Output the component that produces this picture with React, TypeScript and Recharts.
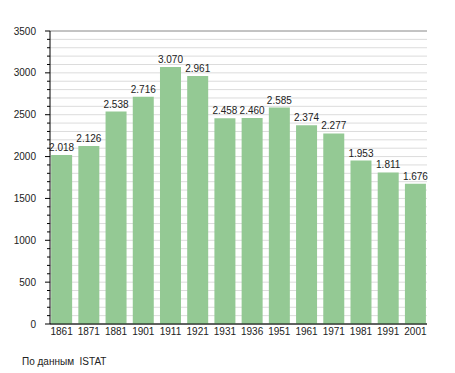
import React from "react";
import { BarChart, Bar, XAxis, YAxis, CartesianGrid, LabelList } from "recharts";

const years = ["1861", "1871", "1881", "1901", "1911", "1921", "1931", "1936", "1951", "1961", "1971", "1981", "1991", "2001"];
const population = [2018, 2126, 2538, 2716, 3070, 2961, 2458, 2460, 2585, 2374, 2277, 1953, 1811, 1676];
const majorTicks = [0, 500, 1000, 1500, 2000, 2500, 3000, 3500];
const allTicks = [
  0, 100, 200, 300, 400, 500, 600, 700, 800, 900, 1000, 1100, 1200, 1300, 1400, 1500, 1600, 1700,
  1800, 1900, 2000, 2100, 2200, 2300, 2400, 2500, 2600, 2700, 2800, 2900, 3000, 3100, 3200, 3300,
  3400, 3500,
];

const data = years.map((y, i) => ({ year: y, value: population[i] }));
const font = "'Liberation Sans', Arial, sans-serif";

const YTick = (props: any) => {
  const { x, y, payload } = props;
  const v = payload.value;
  const major = majorTicks.includes(v);
  const axisX = x + 14;
  return (
    <g>
      <line x1={axisX - (major ? 5 : 3)} x2={axisX} y1={y} y2={y} stroke="#000" />
      {major && (
        <text x={x} y={y} dy={3.5} textAnchor="end" fontSize={10} fill="#222" fontFamily={font}>
          {v}
        </text>
      )}
    </g>
  );
};

export default function App() {
  return (
    <div style={{ position: "absolute", left: 0, top: 0, width: 455, height: 373, background: "#fff" }}>
      <BarChart
        width={455}
        height={373}
        data={data}
        margin={{ top: 31, right: 28, left: 0, bottom: 0 }}
        barCategoryGap="11.5%"
      >
        <CartesianGrid vertical={false} stroke="#dcdcdc" />
        <CartesianGrid vertical={false} stroke="#9a9a9a" yAxisId="major" />
        <XAxis
          dataKey="year"
          axisLine={{ stroke: "#000" }}
          tickLine={false}
          tickSize={0}
          tickMargin={4}
          padding={{ left: -2, right: -2 }}
          tick={{ fontSize: 10, fill: "#222", fontFamily: font }}
          height={49}
          interval={0}
        />
        <YAxis
          domain={[0, 3500]}
          ticks={allTicks}
          interval={0}
          width={50}
          axisLine={{ stroke: "#000" }}
          tickLine={false}
          tickSize={5}
          tickMargin={9}
          tick={<YTick />}
        />
        <YAxis yAxisId="major" hide domain={[0, 3500]} ticks={majorTicks} interval={0} />
        <Bar dataKey="value" fill="#94c994" isAnimationActive={false}>
          <LabelList
            dataKey="value"
            position="top"
            offset={4}
            formatter={(v: any) => (Number(v) / 1000).toFixed(3)}
            style={{ fontSize: 10, fill: "#222", fontFamily: font }}
          />
        </Bar>
      </BarChart>
      <div
        style={{
          position: "absolute",
          left: 22,
          top: 356,
          fontSize: 10,
          color: "#222",
          fontFamily: font,
        }}
      >
        По данным&nbsp; ISTAT
      </div>
    </div>
  );
}
